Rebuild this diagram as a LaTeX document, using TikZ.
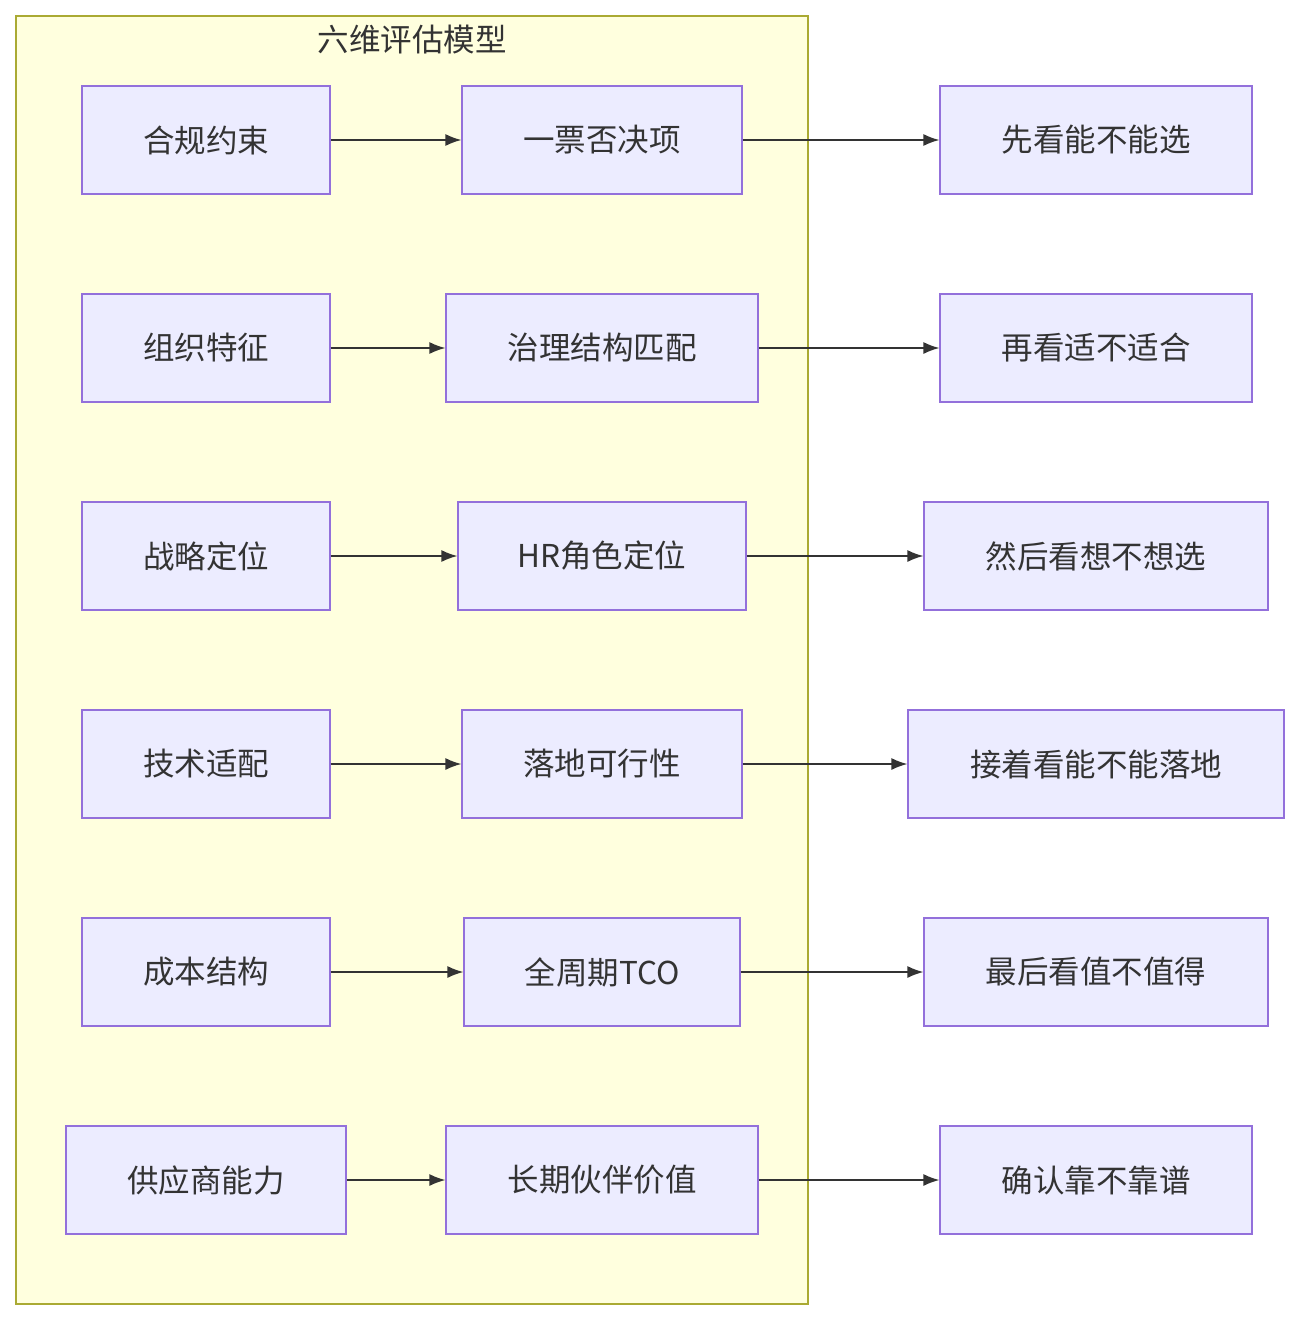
\documentclass[tikz,border=0pt]{standalone}
\usepackage{fontspec}
\setmainfont{Noto Sans CJK SC}
\usetikzlibrary{arrows.meta}
\definecolor{boxfill}{HTML}{ECECFF}
\definecolor{boxline}{HTML}{9370DB}
\definecolor{clfill}{HTML}{FFFFDE}
\definecolor{clline}{HTML}{AAAA33}
\definecolor{edge}{HTML}{333333}
\tikzset{
  box/.style={draw=boxline, fill=boxfill, line width=1.2pt, inner sep=0pt, font=\fontsize{31.5}{36}\selectfont, text=black!80},
  conn/.style={draw=edge, line width=1.5pt, -{Latex[length=16pt,width=12pt]}},
}
\newcommand{\bx}[5]{\node[box, minimum width={(#3-#2)*1pt}, minimum height=108pt] (#1) at ({(#2+#3)/2},{-#4}) {#5};}
\begin{document}
\begin{tikzpicture}[x=1pt,y=1pt]
\useasboundingbox (0,0) rectangle (1300,-1320);
\fill[white] (0,0) rectangle (1300,-1320);
\draw[draw=clline, fill=clfill, line width=1.2pt] (16,-16) rectangle (808,-1304);
\node[font=\fontsize{31.5}{36}\selectfont, text=black!80] (title) at (412,-40) {六维评估模型};
% row 1
\bx{a1}{82}{330}{140}{合规约束}
\bx{b1}{462}{742}{140}{一票否决项}
\bx{c1}{940}{1252}{140}{先看能不能选}
% row 2
\bx{a2}{82}{330}{348}{组织特征}
\bx{b2}{446}{758}{348}{治理结构匹配}
\bx{c2}{940}{1252}{348}{再看适不适合}
% row 3
\bx{a3}{82}{330}{556}{战略定位}
\bx{b3}{458}{746}{556}{HR角色定位}
\bx{c3}{924}{1268}{556}{然后看想不想选}
% row 4
\bx{a4}{82}{330}{764}{技术适配}
\bx{b4}{462}{742}{764}{落地可行性}
\bx{c4}{908}{1284}{764}{接着看能不能落地}
% row 5
\bx{a5}{82}{330}{972}{成本结构}
\bx{b5}{464}{740}{972}{全周期TCO}
\bx{c5}{924}{1268}{972}{最后看值不值得}
% row 6
\bx{a6}{66}{346}{1180}{供应商能力}
\bx{b6}{446}{758}{1180}{长期伙伴价值}
\bx{c6}{940}{1252}{1180}{确认靠不靠谱}
\foreach \i in {1,...,6}{
  \draw[conn] (a\i) -- (b\i);
  \draw[conn] (b\i) -- (c\i);
}
\end{tikzpicture}
\end{document}
